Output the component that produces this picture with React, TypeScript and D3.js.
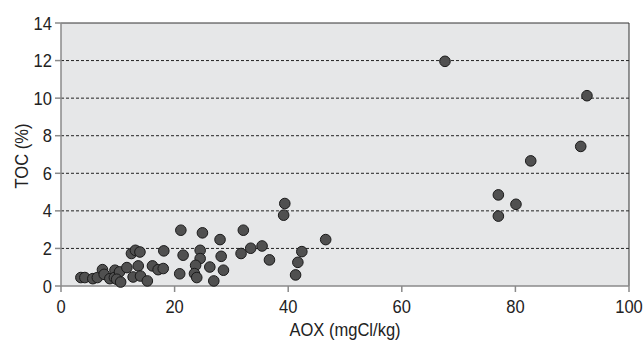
import React, { useEffect, useRef } from "react";
import * as d3 from "d3";

// AOX (mgCl/kg) vs TOC (%)
const aox = [
  3.5, 4.2, 5.6, 6.4, 7.3, 7.6, 8.6, 9.5, 9.4, 10.3, 9.8, 10.5, 11.6, 12.4,
  13.1, 13.9, 13.6, 12.7, 14.0, 15.2, 16.1, 17.1, 18.0, 18.1, 21.1, 21.5, 20.9,
  24.9, 24.5, 24.5, 23.7, 23.5, 23.9, 26.2, 26.9, 28.0, 28.2, 28.6, 32.1, 31.7,
  33.4, 35.4, 36.7, 39.4, 39.2, 42.4, 41.7, 41.3, 46.6, 67.6, 92.6, 91.5, 82.7,
  77.0, 80.1, 77.0,
];
const toc = [
  0.45, 0.45, 0.39, 0.45, 0.87, 0.62, 0.39, 0.84, 0.45, 0.75, 0.36, 0.21, 0.98,
  1.73, 1.9, 1.81, 1.07, 0.48, 0.53, 0.27, 1.07, 0.87, 0.93, 1.87, 2.97, 1.64,
  0.65, 2.83, 1.9, 1.46, 1.1, 0.66, 0.45, 1.01, 0.27, 2.47, 1.58, 0.84, 2.97,
  1.73, 2.01, 2.13, 1.39, 4.39, 3.77, 1.83, 1.26, 0.59, 2.47, 11.96, 10.13,
  7.43, 6.66, 4.85, 4.35, 3.72,
];
const xTicks = [0, 20, 40, 60, 80, 100];
const yTicks = [0, 2, 4, 6, 8, 10, 12, 14];

const W = 643;
const H = 340;
const font = "'Liberation Sans', Arial, sans-serif";
const squeeze = 0.92; // reference type is a condensed grotesque

export default function App() {
  const ref = useRef<SVGSVGElement>(null);

  useEffect(() => {
    const svg = d3.select(ref.current);
    svg.selectAll("*").remove();

    const left = 61;
    const right = 629;
    const top = 23;
    const bottom = 286;

    const x = d3.scaleLinear().domain([0, 100]).range([left, right]);
    const y = d3.scaleLinear().domain([0, 14]).range([bottom, top]);

    // condensed-looking label
    const label = (
      parent: d3.Selection<any, any, any, any>,
      tx: number,
      ty: number,
      txt: string,
      anchor: string,
      rotate = 0
    ) =>
      parent
        .append("text")
        .attr("transform", `translate(${tx},${ty}) rotate(${rotate}) scale(${squeeze},1)`)
        .attr("text-anchor", anchor)
        .style("font-family", font)
        .style("font-size", "18px")
        .attr("fill", "#222")
        .text(txt);

    svg
      .append("rect")
      .attr("x", left)
      .attr("y", top)
      .attr("width", right - left)
      .attr("height", bottom - top)
      .attr("fill", "#e6e7e8");

    // dashed gridlines
    svg
      .selectAll(".grid")
      .data(yTicks.filter((d) => d > 0 && d < 14))
      .join("line")
      .attr("x1", left)
      .attr("x2", right)
      .attr("y1", (d) => y(d))
      .attr("y2", (d) => y(d))
      .attr("stroke", "#222")
      .attr("stroke-width", 1)
      .attr("stroke-dasharray", "3,2");

    // frame: top and right dark, left and bottom gray
    svg
      .append("path")
      .attr("d", `M${left},${top}H${right}V${bottom}`)
      .attr("fill", "none")
      .attr("stroke", "#333")
      .attr("stroke-width", 1);
    svg
      .append("path")
      .attr("d", `M${left},${top}V${bottom}H${right}`)
      .attr("fill", "none")
      .attr("stroke", "#8a8a8a")
      .attr("stroke-width", 1.5);

    // y ticks + labels
    const yg = svg.append("g");
    yg.selectAll("line")
      .data(yTicks)
      .join("line")
      .attr("x1", left - 6)
      .attr("x2", left)
      .attr("y1", (d) => y(d))
      .attr("y2", (d) => y(d))
      .attr("stroke", "#8a8a8a")
      .attr("stroke-width", 1.5);
    yTicks.forEach((d) => label(yg, left - 9, y(d) + 6.5, String(d), "end"));

    // x ticks + labels
    const xg = svg.append("g");
    xg.selectAll("line")
      .data(xTicks)
      .join("line")
      .attr("x1", (d) => x(d))
      .attr("x2", (d) => x(d))
      .attr("y1", bottom)
      .attr("y2", bottom + 6)
      .attr("stroke", "#8a8a8a")
      .attr("stroke-width", 1.5);
    xTicks.forEach((d) => label(xg, x(d), 313, String(d), "middle"));

    // axis titles
    label(svg, (left + right) / 2, 336, "AOX (mgCl/kg)", "middle");
    label(svg, 28, 156, "TOC (%)", "middle", -90);

    // points
    svg
      .append("g")
      .selectAll("circle")
      .data(d3.range(aox.length))
      .join("circle")
      .attr("cx", (i) => x(aox[i]))
      .attr("cy", (i) => y(toc[i]))
      .attr("r", 5.3)
      .attr("fill", "#505050")
      .attr("stroke", "#1a1a1a")
      .attr("stroke-width", 1);
  }, []);

  return (
    <svg
      ref={ref}
      width={W}
      height={H}
      style={{ position: "absolute", left: 0, top: 0, background: "#fff" }}
    />
  );
}
